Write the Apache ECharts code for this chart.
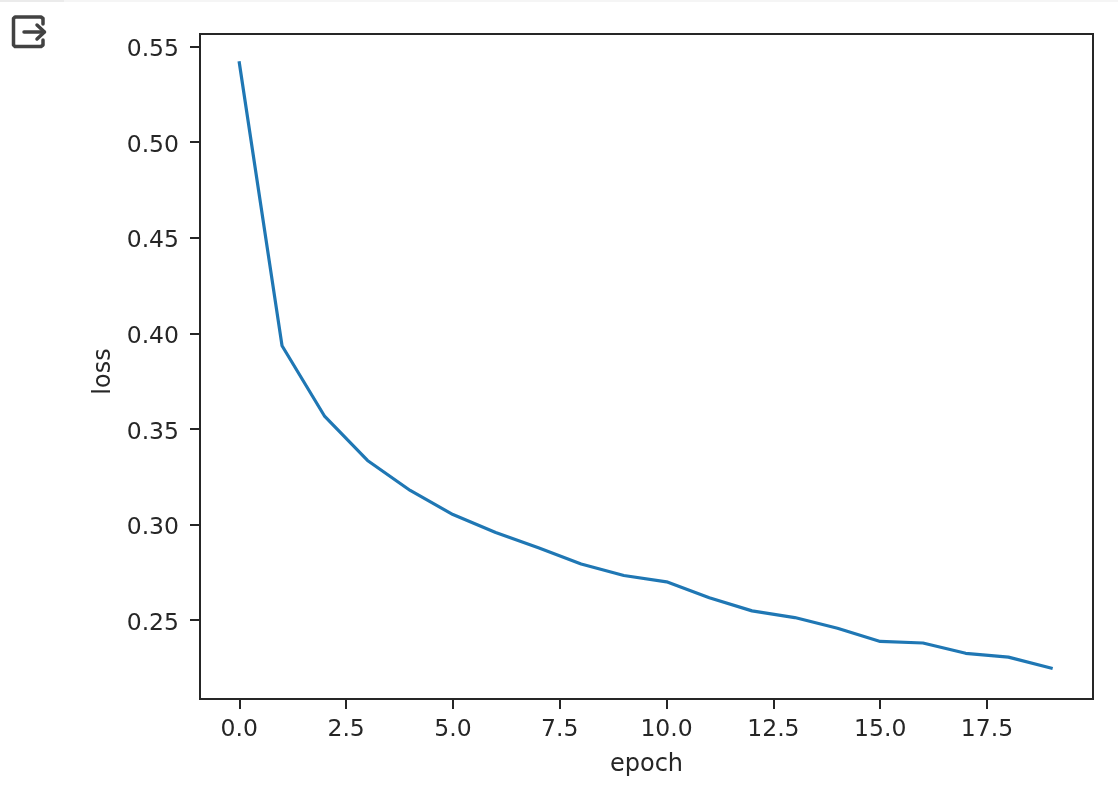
<!DOCTYPE html>
<html>
<head>
<meta charset="utf-8">
<style>html,body{margin:0;padding:0;background:#fff}#c{width:1118px;height:796px}</style>
<script src="https://cdn.jsdelivr.net/npm/echarts@6/dist/echarts.min.js"></script>
</head>
<body>
<div id="c"></div>
<script>
const epochs = [0,1,2,3,4,5,6,7,8,9,10,11,12,13,14,15,16,17,18,19];
const loss = [0.5415,0.3935,0.3565,0.3335,0.3178,0.3052,0.2958,0.2878,0.2793,0.2733,0.2700,0.2617,0.2548,0.2513,0.2457,0.2388,0.2380,0.2326,0.2306,0.2249];
const xTicks = [0,2.5,5,7.5,10,12.5,15,17.5];
const yTicks = [0.25,0.30,0.35,0.40,0.45,0.50,0.55];
const xName = 'epoch';
const yName = 'loss';
const ink = '#262626';
const font = '"DejaVu Sans"';
const chart = echarts.init(document.getElementById('c'), null, {renderer:'canvas'});
const iconStyle = {stroke:'#424242', lineWidth:3.5, fill:'none', lineCap:'round', lineJoin:'round'};
chart.setOption({
  animation:false,
  backgroundColor:'#fff',
  grid:{left:200,right:25,top:34,bottom:97,show:true,borderColor:ink,borderWidth:2,backgroundColor:'#fff',containLabel:false},
  xAxis:{
    type:'value',min:-0.92,max:19.98,
    name:xName,nameLocation:'middle',nameGap:54,
    nameTextStyle:{fontFamily:font,fontSize:24,color:ink},
    splitLine:{show:false},
    axisLine:{show:true,onZero:false,lineStyle:{color:ink,width:2}},
    axisTick:{show:true,length:10,customValues:xTicks,lineStyle:{color:ink,width:2}},
    axisLabel:{fontFamily:font,fontSize:23.5,color:ink,margin:19,customValues:xTicks,
      formatter:v=>Number(v).toFixed(1)}
  },
  yAxis:{
    type:'value',min:0.2087,max:0.5566,
    name:yName,nameLocation:'middle',nameGap:84,
    nameTextStyle:{fontFamily:font,fontSize:24,color:ink,padding:[0,10,0,0]},
    splitLine:{show:false},
    axisLine:{show:true,onZero:false,lineStyle:{color:ink,width:2}},
    axisTick:{show:true,length:10,customValues:yTicks,lineStyle:{color:ink,width:2}},
    axisLabel:{fontFamily:font,fontSize:23.5,color:ink,margin:21,verticalAlign:'top',lineHeight:7,customValues:yTicks,
      formatter:v=>Number(v).toFixed(2)}
  },
  series:[{
    type:'line',
    data:epochs.map((e,i)=>[e,loss[i]]),
    showSymbol:false,symbol:'none',smooth:false,
    lineStyle:{color:'#1f77b4',width:3.2,cap:'square',join:'round'},
    clip:false
  }],
  graphic:[
    {type:'rect',left:0,top:0,shape:{width:1118,height:2},style:{fill:'#f5f5f5'},silent:true},
    {type:'rect',left:0,top:0,shape:{width:64,height:2},style:{fill:'#ebebeb'},silent:true},
    {type:'polyline',shape:{points:[[43,24],[43,18.5],[41,17],[15,17],[13.5,18.5],[13.5,45],[15,46.5],[41,46.5],[43,45],[43,40]]},style:iconStyle,silent:true},
    {type:'polyline',shape:{points:[[24,32],[44,32]]},style:iconStyle,silent:true},
    {type:'polyline',shape:{points:[[37,25],[44.5,32],[37,39]]},style:iconStyle,silent:true}
  ]
});
</script>
</body>
</html>
